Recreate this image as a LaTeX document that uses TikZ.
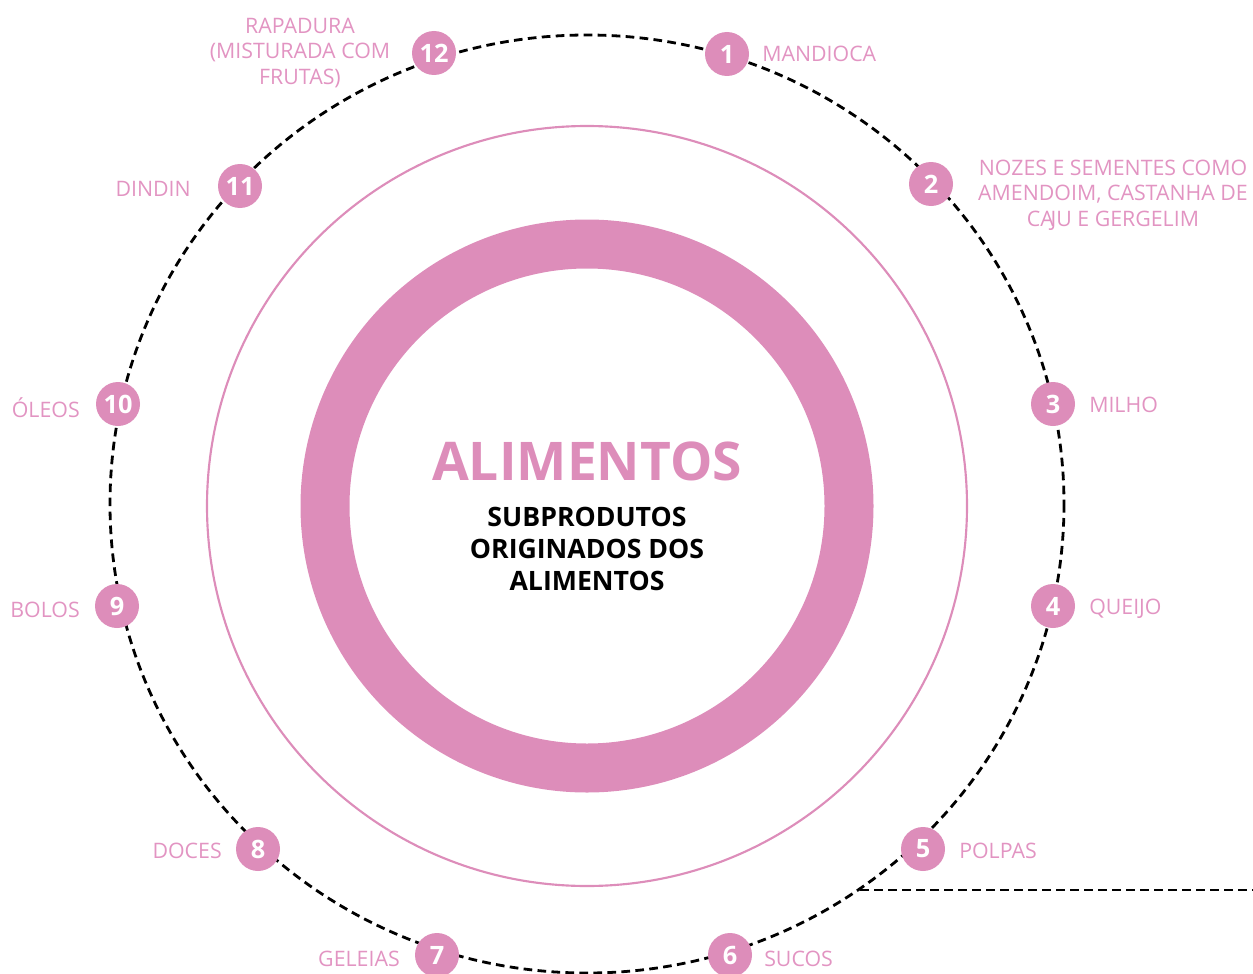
\documentclass[tikz,border=0pt]{standalone}
\usepackage{fontspec}
\setmainfont{Open Sans}
\definecolor{pk}{RGB}{221,141,186}
\definecolor{pktxt}{RGB}{226,148,194}
\begin{document}
\begin{tikzpicture}[x=0.75pt,y=-0.75pt,
  num/.style={circle,fill=pk,draw=none,minimum size=33pt,inner sep=0pt,text=white,font=\fontsize{19}{19}\selectfont\bfseries},
  lbl/.style={text=pktxt,font=\fontsize{16}{19}\selectfont,inner sep=0pt,align=center},
  dsh/.style={black,line width=2.1pt,dash pattern=on 6.5pt off 4pt}]
\useasboundingbox (0,0) rectangle (1253,974);
\coordinate (c) at (587,506);
% dashed ellipse
\draw[dsh] (587,504) ellipse [x radius=477, y radius=469];
\coordinate (hs) at (860,890);
\coordinate (he) at (1253,890);
\draw[dsh] (hs) -- (he);
% thin circle
\draw[pk,line width=1.6pt] (c) circle [radius=380];
% thick ring
\draw[pk,line width=36.75pt] (c) circle [radius=262];
% centre text
\node[text=pk,font=\fontsize{40}{40}\selectfont\bfseries,inner sep=0pt] (t) at (587,461) {ALIMENTOS};
\node[font=\fontsize{20}{24}\selectfont\bfseries,align=center,inner sep=0pt] (s) at (587,549) {SUBPRODUTOS\\ORIGINADOS DOS\\ALIMENTOS};
% numbered nodes
\node[num] (n1) at (727,54) {1};
\node[num] (n2) at (931,184) {2};
\node[num] (n3) at (1053,404) {3};
\node[num] (n4) at (1053,606) {4};
\node[num] (n5) at (923,849) {5};
\node[num] (n6) at (730,955) {6};
\node[num] (n7) at (437,955) {7};
\node[num] (n8) at (258,849) {8};
\node[num] (n9) at (117,606) {9};
\node[num] (n10) at (118,404) {10};
\node[num] (n11) at (240,186) {11};
\node[num] (n12) at (434,53) {12};
% labels
\node[lbl,anchor=west] (l1) at (762,54) {MANDIOCA};
\node[lbl] (l2) at (1113,195) {NOZES E SEMENTES COMO\\AMENDOIM, CASTANHA DE\\CA\kern-2.5pt JU E GERGELIM};
\node[lbl,anchor=west] (l3) at (1089,405) {MILHO};
\node[lbl,anchor=west] (l4) at (1089,609) {QUEIJO};
\node[lbl,anchor=west] (l5) at (959,851) {POLPAS};
\node[lbl,anchor=west] (l6) at (764,959) {SUCOS};
\node[lbl,anchor=east] (l7) at (400,959) {GELEIAS};
\node[lbl,anchor=east] (l8) at (222,851) {DOCES};
\node[lbl,anchor=east] (l9) at (80,610) {BOLOS};
\node[lbl,anchor=east] (l10) at (80,408) {ÓLEOS};
\node[lbl,anchor=east] (l11) at (191,189) {DINDIN};
\node[lbl] (l12) at (300,53) {RAPADURA\\(MISTURADA COM\\FRUTAS)};
\end{tikzpicture}
\end{document}
